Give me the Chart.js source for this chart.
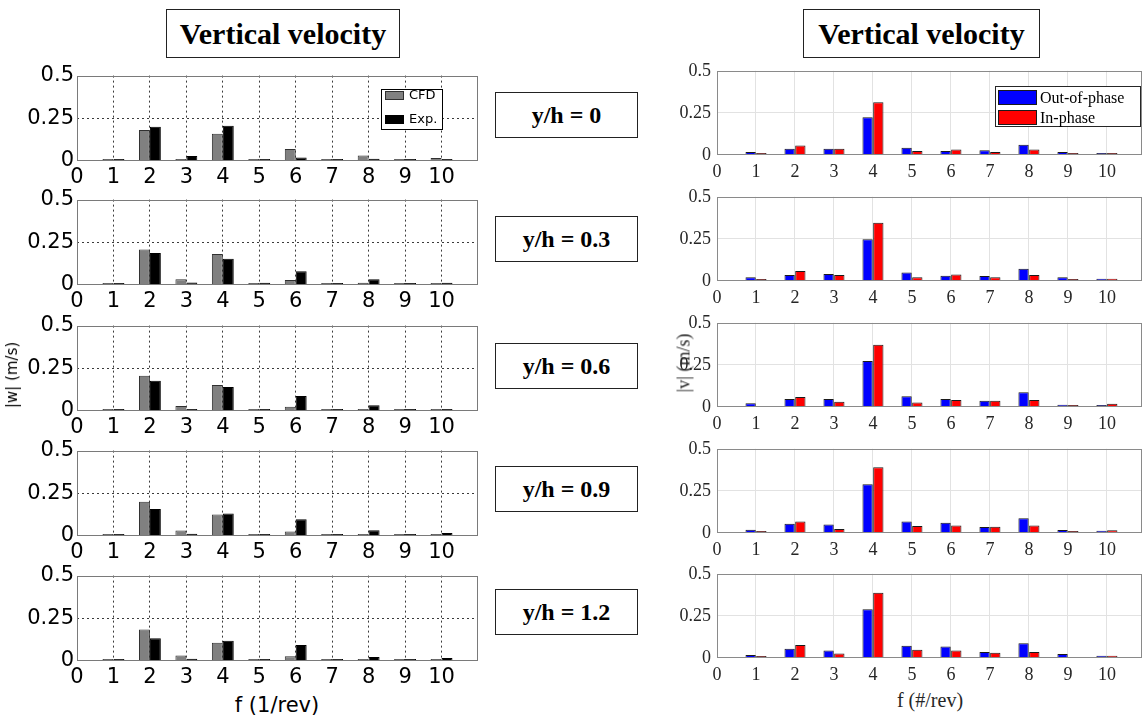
<!DOCTYPE html>
<html>
<head>
<meta charset="utf-8">
<title>Vertical velocity spectra</title>
<script src="https://cdn.jsdelivr.net/npm/chart.js@4.4.1/dist/chart.umd.min.js"></script>
<style>
  html, body { margin: 0; padding: 0; background: #fff; }
  body { position: relative; width: 1143px; height: 719px; overflow: hidden; }
  canvas { position: absolute; }
  .box {
    position: absolute; box-sizing: border-box; border: 1px solid #222; background: #fff;
    display: flex; align-items: center; justify-content: center;
    font-family: "Liberation Serif", "Times New Roman", serif; font-weight: bold; color: #000;
    white-space: nowrap;
  }
  .lbl { position: absolute; white-space: nowrap; color: #000; transform: translate(-50%, -50%); }
  .rot { transform: translate(-50%, -50%) rotate(-90deg); }
</style>
</head>
<body>

<div class="box" style="left:166px;top:9px;width:234px;height:49px;font-size:30px;" id="titleL"></div>
<div class="box" style="left:803px;top:9px;width:237px;height:49px;font-size:30px;" id="titleR"></div>

<div id="stations"></div>
<div id="plots"></div>

<div class="lbl rot" id="wLabel" style="left:12px;top:375px;font-family:'DejaVu Sans',sans-serif;font-size:15px;"></div>
<div class="lbl rot" id="vLabel" style="left:684px;top:363px;font-family:'Liberation Serif','Times New Roman',serif;font-size:18px;color:#262626;"></div>
<div class="lbl" id="fLabelL" style="left:277px;top:705px;font-family:'DejaVu Sans',sans-serif;font-size:21px;"></div>
<div class="lbl" id="fLabelR" style="left:930px;top:700px;font-family:'Liberation Serif','Times New Roman',serif;font-size:20px;color:#262626;"></div>

<script>
// ---- data -------------------------------------------------------------
const freq = [1, 2, 3, 4, 5, 6, 7, 8, 9, 10];
const xTickValues = [0, 1, 2, 3, 4, 5, 6, 7, 8, 9, 10];
const yTickValues = [0, 0.25, 0.5];
const stationLabels = ['y/h = 0', 'y/h = 0.3', 'y/h = 0.6', 'y/h = 0.9', 'y/h = 1.2'];
const panelTitle = 'Vertical velocity';
const wAxisTitle = '|w| (m/s)';
const vAxisTitle = '|v| (m/s)';
const fAxisTitleL = 'f (1/rev)';
const fAxisTitleR = 'f (#/rev)';
const wSeriesNames = ['CFD', 'Exp.'];
const vSeriesNames = ['Out-of-phase', 'In-phase'];

// |w| amplitude, CFD vs experiment, one pair per station
const wCfd00 = [0.003, 0.182, 0.011, 0.160, 0.011, 0.070, 0.006, 0.032, 0.004, 0.017];
const wExp00 = [0.010, 0.201, 0.030, 0.207, 0.008, 0.021, 0.004, 0.013, 0.003, 0.004];
const wCfd03 = [0.009, 0.208, 0.034, 0.182, 0.004, 0.030, 0.004, 0.013, 0.004, 0.004];
const wExp03 = [0.006, 0.187, 0.015, 0.153, 0.013, 0.081, 0.008, 0.034, 0.004, 0.013];
const wCfd06 = [0.008, 0.206, 0.029, 0.152, 0.004, 0.025, 0.004, 0.012, 0.004, 0.004];
const wExp06 = [0.004, 0.177, 0.012, 0.140, 0.012, 0.088, 0.006, 0.033, 0.004, 0.012];
const wCfd09 = [0.008, 0.201, 0.032, 0.126, 0.004, 0.026, 0.004, 0.008, 0.004, 0.004];
const wExp09 = [0.004, 0.158, 0.013, 0.132, 0.011, 0.098, 0.006, 0.034, 0.004, 0.017];
const wCfd12 = [0.011, 0.184, 0.032, 0.107, 0.004, 0.028, 0.004, 0.004, 0.004, 0.006];
const wExp12 = [0.004, 0.133, 0.013, 0.118, 0.006, 0.094, 0.006, 0.023, 0.004, 0.017];

// |v| amplitude, out-of-phase vs in-phase, one pair per station
const vOut00 = [0.018, 0.037, 0.037, 0.224, 0.043, 0.024, 0.028, 0.061, 0.018, 0.008];
const vIn00  = [0.008, 0.057, 0.037, 0.313, 0.024, 0.033, 0.018, 0.033, 0.004, 0.008];
const vOut03 = [0.022, 0.035, 0.041, 0.248, 0.051, 0.031, 0.030, 0.073, 0.022, 0.014];
const vIn03  = [0.006, 0.059, 0.035, 0.346, 0.022, 0.039, 0.022, 0.035, 0.010, 0.014];
const vOut06 = [0.023, 0.047, 0.047, 0.273, 0.064, 0.047, 0.037, 0.087, 0.014, 0.008];
const vIn06  = [0.000, 0.060, 0.031, 0.370, 0.027, 0.041, 0.037, 0.041, 0.008, 0.019];
const vOut09 = [0.020, 0.055, 0.051, 0.289, 0.069, 0.061, 0.035, 0.087, 0.018, 0.014];
const vIn09  = [0.010, 0.069, 0.024, 0.390, 0.041, 0.045, 0.037, 0.045, 0.010, 0.016];
const vOut12 = [0.018, 0.055, 0.045, 0.289, 0.073, 0.069, 0.035, 0.087, 0.024, 0.014];
const vIn12  = [0.006, 0.077, 0.026, 0.388, 0.049, 0.045, 0.031, 0.035, 0.000, 0.014];

const wPairs = [[wCfd00, wExp00], [wCfd03, wExp03], [wCfd06, wExp06], [wCfd09, wExp09], [wCfd12, wExp12]];
const vPairs = [[vOut00, vIn00], [vOut03, vIn03], [vOut06, vIn06], [vOut09, vIn09], [vOut12, vIn12]];

// ---- layout -----------------------------------------------------------
const PLOT_H = 87;
const leftTops = [74, 198, 324, 449, 574];
const rightTops = [68, 194, 320, 446, 571];
const stationTops = [92, 216, 343, 466, 589];

const leftStyle = {
  family: '"DejaVu Sans", sans-serif', tickSize: 21, tickColor: '#000',
  gridColor: '#3a3a3a', gridDash: [2, 3], frameColor: '#7a7a7a',
  colors: ['#808080', '#000000'], borders: ['#303030', '#000000'],
  catPct: 0.6, barPct: 1.0, xMax: 11, plotRight: 478,
  canvasLeft: 0, canvasWidth: 490, yAxisWidth: 77, xAxisHeight: 30, yPad: 3, xPad: 4,
  legend: {
    show: true, right: 36, top: 13, width: 61, height: 40, rows: [6, 30],
    swatchX: 4, swatchW: 19, swatchH: 9, textX: 28,
    font: '13px "DejaVu Sans", sans-serif', borderColor: '#000'
  }
};
const rightStyle = {
  family: '"Liberation Serif", "Times New Roman", serif', tickSize: 18, tickColor: '#262626',
  gridColor: '#e2e2e2', gridDash: [], frameColor: '#8a8a8a',
  colors: ['#0000ff', '#ff0000'], borders: ['#1a1a1a', '#1a1a1a'],
  catPct: 0.55, barPct: 0.96, xMax: 10.9, plotRight: 1142,
  canvasLeft: 650, canvasWidth: 494, yAxisWidth: 67, xAxisHeight: 30, yPad: 6, xPad: 6,
  legend: {
    show: true, right: 2, top: 15, width: 145, height: 40, rows: [11.5, 31.5],
    swatchX: 3, swatchW: 39, swatchH: 15, textX: 45,
    font: '16px "Liberation Serif", "Times New Roman", serif', borderColor: '#262626'
  }
};

// ---- plugins ----------------------------------------------------------
const framePlugin = {
  id: 'frame',
  afterDatasetsDraw(chart, args, opts) {
    const { ctx, chartArea: a } = chart;
    ctx.save();
    ctx.strokeStyle = opts.color;
    ctx.lineWidth = 1;
    ctx.strokeRect(Math.round(a.left) + 0.5, Math.round(a.top) + 0.5,
                   Math.round(a.right - a.left) - 1, Math.round(a.bottom - a.top) - 1);
    ctx.restore();
  }
};

const boxLegendPlugin = {
  id: 'boxLegend',
  afterDraw(chart, args, o) {
    if (!o || !o.show) return;
    const { ctx, chartArea: a } = chart;
    const x0 = Math.round(a.right - o.right - o.width);
    const y0 = Math.round(a.top + o.top);
    ctx.save();
    ctx.fillStyle = '#fff';
    ctx.fillRect(x0, y0, o.width, o.height);
    ctx.strokeStyle = o.borderColor;
    ctx.lineWidth = 1;
    ctx.strokeRect(x0 + 0.5, y0 + 0.5, o.width, o.height);
    ctx.font = o.font;
    ctx.textBaseline = 'middle';
    chart.data.datasets.forEach((ds, i) => {
      const cy = y0 + o.rows[i];
      const sy = Math.round(cy - o.swatchH / 2);
      ctx.fillStyle = ds.backgroundColor;
      ctx.fillRect(x0 + o.swatchX, sy, o.swatchW, o.swatchH);
      ctx.strokeStyle = ds.borderColor;
      ctx.strokeRect(x0 + o.swatchX + 0.5, sy + 0.5, o.swatchW - 1, o.swatchH - 1);
      ctx.fillStyle = '#000';
      ctx.fillText(ds.label, x0 + o.textX, cy + 1);
    });
    ctx.restore();
  }
};

// ---- panel builder ----------------------------------------------------
function makePanel(plotTop, pair, names, st, withLegend) {
  const PAD_TOP = 14;
  const cv = document.createElement('canvas');
  cv.width = st.canvasWidth;
  cv.height = PAD_TOP + PLOT_H + st.xAxisHeight;
  cv.style.left = st.canvasLeft + 'px';
  cv.style.top = (plotTop - PAD_TOP) + 'px';
  cv.style.width = cv.width + 'px';
  cv.style.height = cv.height + 'px';
  document.getElementById('plots').appendChild(cv);

  const padRight = st.canvasLeft + st.canvasWidth - st.plotRight;

  const datasets = pair.map((vals, k) => ({
    label: names[k],
    // zero amplitudes are simply not drawn
    data: freq.map((f, i) => ({ x: f, y: vals[i] })).filter(p => p.y > 0),
    backgroundColor: st.colors[k],
    borderColor: st.borders[k],
    borderWidth: 1,
    borderSkipped: 'bottom',
    minBarLength: 2,
    categoryPercentage: st.catPct,
    barPercentage: st.barPct
  }));

  const edgeClear = (edges) => (ctx) =>
    (ctx.tick && edges.includes(ctx.tick.value)) ? 'rgba(0,0,0,0)' : st.gridColor;

  return new Chart(cv, {
    type: 'bar',
    data: { datasets },
    plugins: [framePlugin, boxLegendPlugin],
    options: {
      responsive: false,
      animation: false,
      devicePixelRatio: 1,
      layout: { padding: { top: PAD_TOP, right: padRight, left: 0, bottom: 0 } },
      plugins: {
        legend: { display: false },
        tooltip: { enabled: false },
        frame: { color: st.frameColor },
        boxLegend: withLegend ? st.legend : { show: false }
      },
      scales: {
        x: {
          type: 'linear', min: 0, max: st.xMax, offset: false,
          afterBuildTicks: (s) => { s.ticks = xTickValues.map(v => ({ value: v })); },
          afterFit: (s) => { s.height = st.xAxisHeight; },
          ticks: {
            font: { family: st.family, size: st.tickSize },
            color: st.tickColor, padding: st.xPad, maxRotation: 0, autoSkip: false,
            callback: (v) => String(v)
          },
          grid: { color: edgeClear([0, st.xMax]), lineWidth: 1, drawTicks: false, offset: false },
          border: { display: false, dash: st.gridDash }
        },
        y: {
          type: 'linear', min: 0, max: 0.5,
          afterBuildTicks: (s) => { s.ticks = yTickValues.map(v => ({ value: v })); },
          afterFit: (s) => { s.width = st.yAxisWidth; },
          ticks: {
            font: { family: st.family, size: st.tickSize },
            color: st.tickColor, padding: st.yPad,
            callback: (v) => String(v)
          },
          grid: { color: edgeClear([0, 0.5]), lineWidth: 1, drawTicks: false },
          border: { display: false, dash: st.gridDash }
        }
      }
    }
  });
}

// ---- text -------------------------------------------------------------
document.getElementById('titleL').textContent = panelTitle;
document.getElementById('titleR').textContent = panelTitle;
document.getElementById('wLabel').textContent = wAxisTitle;
document.getElementById('vLabel').textContent = vAxisTitle;
document.getElementById('fLabelL').textContent = fAxisTitleL;
document.getElementById('fLabelR').textContent = fAxisTitleR;

const stationHolder = document.getElementById('stations');
stationLabels.forEach((txt, i) => {
  const d = document.createElement('div');
  d.className = 'box';
  d.style.cssText = `left:495px;top:${stationTops[i]}px;width:143px;height:46px;font-size:24px;`;
  d.textContent = txt;
  stationHolder.appendChild(d);
});

// ---- charts -----------------------------------------------------------
wPairs.forEach((pair, i) => makePanel(leftTops[i], pair, wSeriesNames, leftStyle, i === 0));
vPairs.forEach((pair, i) => makePanel(rightTops[i], pair, vSeriesNames, rightStyle, i === 0));
</script>
</body>
</html>
